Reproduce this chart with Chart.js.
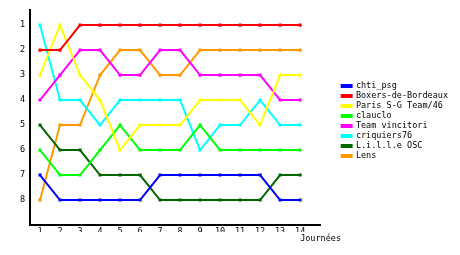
<!DOCTYPE html>
<html>
<head>
<meta charset="utf-8">
<script src="https://cdn.jsdelivr.net/npm/chart.js@4"></script>
<style>
  html, body { margin: 0; padding: 0; background: #fff; }
  #wrap { width: 460px; height: 255px; }
</style>
</head>
<body>
<div id="wrap"><canvas id="chart" width="460" height="255"></canvas></div>
<script>
// journées 1..14
const journees = [1, 2, 3, 4, 5, 6, 7, 8, 9, 10, 11, 12, 13, 14];
const rangs = [1, 2, 3, 4, 5, 6, 7, 8];

const teams = ["chti_psg", "Boxers-de-Bordeaux", "Paris S-G Team/46", "clauclo",
  "Team vincitori", "criquiers76", "L.i.l.l.e OSC", "Lens"];
const colors = ["#0000ff", "#ff0000", "#ffff00", "#00ff00",
  "#ff00ff", "#00ffff", "#006600", "#ff9900"];

const chtiPsg   = [7, 8, 8, 8, 8, 8, 7, 7, 7, 7, 7, 7, 8, 8];
const boxers    = [2, 2, 1, 1, 1, 1, 1, 1, 1, 1, 1, 1, 1, 1];
const parisSG   = [3, 1, 3, 4, 6, 5, 5, 5, 4, 4, 4, 5, 3, 3];
const clauclo   = [6, 7, 7, 6, 5, 6, 6, 6, 5, 6, 6, 6, 6, 6];
const vincitori = [4, 3, 2, 2, 3, 3, 2, 2, 3, 3, 3, 3, 4, 4];
const criquiers = [1, 4, 4, 5, 4, 4, 4, 4, 6, 5, 5, 4, 5, 5];
const lilleOsc  = [5, 6, 6, 7, 7, 7, 8, 8, 8, 8, 8, 8, 7, 7];
const lens      = [8, 5, 5, 3, 2, 2, 3, 3, 2, 2, 2, 2, 2, 2];

const series = [chtiPsg, boxers, parisSG, clauclo, vincitori, criquiers, lilleOsc, lens];

const FONT = { family: "'DejaVu Sans Mono', monospace", size: 8.5 };

const datasets = series.map((vals, i) => ({
  label: teams[i],
  data: vals.map((v, j) => ({ x: journees[j], y: v })),
  borderColor: colors[i],
  backgroundColor: colors[i],
  borderWidth: 2,
  pointStyle: "rect",
  pointRadius: 2.2,
  pointBorderWidth: 0,
  tension: 0,
}));

// axis title drawn next to the end of the x axis
const axisTitle = {
  id: "axisTitle",
  afterDraw(chart) {
    const { ctx, scales } = chart;
    ctx.save();
    ctx.font = "8.5px 'DejaVu Sans Mono', monospace";
    ctx.fillStyle = "#000";
    ctx.textAlign = "left";
    ctx.textBaseline = "middle";
    ctx.fillText("Journées", scales.x.getPixelForValue(14), scales.x.top + 14);
    ctx.restore();
  },
};

new Chart(document.getElementById("chart"), {
  type: "line",
  data: { datasets },
  plugins: [axisTitle],
  options: {
    responsive: false,
    animation: false,
    layout: { padding: { top: 10, right: 2, left: 0, bottom: 23 } },
    plugins: {
      tooltip: { enabled: false },
      legend: {
        position: "right",
        align: "center",
        maxWidth: 150,
        labels: {
          boxWidth: 10,
          boxHeight: 2,
          padding: 1.5,
          color: "#000",
          font: FONT,
        },
      },
    },
    scales: {
      x: {
        type: "linear",
        min: 0.5,
        max: 15,
        afterBuildTicks: (s) => { s.ticks = journees.map(v => ({ value: v })); },
        afterFit: (s) => { s.height = 7; },
        grid: { display: false, drawTicks: false, tickLength: 0 },
        border: { color: "#000", width: 2 },
        ticks: { color: "#000", font: FONT, padding: 2, maxRotation: 0, autoSkip: false },
      },
      y: {
        reverse: true,
        min: 0.4,
        max: 9,
        afterBuildTicks: (s) => { s.ticks = rangs.map(v => ({ value: v })); },
        afterFit: (s) => { s.width = 30; },
        grid: { display: false, drawTicks: false, tickLength: 0 },
        border: { color: "#000", width: 2 },
        ticks: { color: "#000", font: FONT, padding: 5 },
      },
      // empty strip between the plot and the legend
      gap: {
        position: "right",
        display: true,
        afterFit: (s) => { s.width = 20; },
        grid: { display: false, drawTicks: false },
        border: { display: false },
        ticks: { display: false },
      },
    },
  },
});
</script>
</body>
</html>
